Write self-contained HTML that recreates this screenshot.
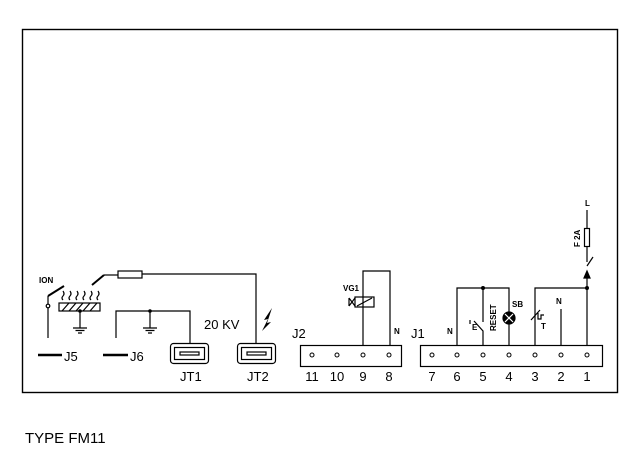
<!DOCTYPE html>
<html><head><meta charset="utf-8"><style>
html,body{margin:0;padding:0;background:#fff;}
svg{display:block;}
text{font-family:"Liberation Sans",sans-serif;fill:#000;}
.b{font-weight:bold;font-size:8px;}
.n{font-size:13px;}
</style></head><body>
<svg width="635" height="469" viewBox="0 0 635 469" xmlns="http://www.w3.org/2000/svg">
<g fill="none" stroke="#000" stroke-width="1.2">
<rect x="22.5" y="29.5" width="595" height="363" stroke-width="1.4"/>
<!-- J5 / ION -->
<line x1="48" y1="338" x2="48" y2="296"/>
<line x1="48" y1="296" x2="64" y2="286" stroke-width="2"/>
<circle cx="48" cy="306" r="1.8" fill="#fff"/>
<rect x="59" y="303" width="41" height="8"/>
<path d="M62 311 L69 303 M69 311 L76 303 M76 311 L83 303 M83 311 L90 303 M90 311 L97 303"/>
<path d="M63 300 q-2 -2 0 -4 q2 -2 0 -5 M70 300 q-2 -2 0 -4 q2 -2 0 -5 M77 300 q-2 -2 0 -4 q2 -2 0 -5 M84 300 q-2 -2 0 -4 q2 -2 0 -5 M91 300 q-2 -2 0 -4 q2 -2 0 -5 M98 300 q-2 -2 0 -4 q2 -2 0 -5"/>
<line x1="80" y1="311" x2="80" y2="328"/>
<path d="M73 328 H87 M75.5 330.5 H84.5 M78 333 H82"/>
<line x1="92" y1="285" x2="104" y2="275" stroke-width="2"/>
<line x1="104" y1="275" x2="118" y2="275"/>
<rect x="118" y="271" width="24" height="7"/>
<path d="M142 274 H256 V343"/>
<!-- J6 -->
<path d="M116 338 V311 H190 V343"/>
<line x1="150" y1="311" x2="150" y2="328"/>
<path d="M143 328 H157 M145.5 330.5 H154.5 M148 333 H152"/>
<line x1="38" y1="355" x2="62" y2="355" stroke-width="2.5"/>
<line x1="103" y1="355" x2="128" y2="355" stroke-width="2.5"/>
<!-- JT1 JT2 -->
<rect x="170.5" y="343.5" width="38" height="20" rx="3"/>
<rect x="174.5" y="347.5" width="30" height="12"/>
<rect x="180" y="352" width="19" height="3"/>
<rect x="237.5" y="343.5" width="38" height="20" rx="3"/>
<rect x="241.5" y="347.5" width="30" height="12"/>
<rect x="247" y="352" width="19" height="3"/>
<!-- J2 -->
<rect x="300.5" y="345.5" width="101" height="21"/>
<path d="M363 345 V271 H390 V345"/>
<rect x="355" y="297" width="19" height="10"/>
<line x1="357" y1="306" x2="372" y2="298"/>
<path d="M349 298 L355 306 M349 306 L355 298 M349 298 V306"/>
<!-- J1 -->
<rect x="420.5" y="345.5" width="182" height="21"/>
<path d="M457 345 V288 H509 V345"/>
<path d="M483 288 V322 M483 345 V331 L474 321 M470 320 V324"/>
<circle cx="509" cy="318" r="6" fill="#000"/>
<path d="M505 314 L513 322 M513 314 L505 322" stroke="#fff" stroke-width="1.2"/>
<path d="M535 345 V288 H587 V345"/>
<path d="M531 320 L540 310 M538 313 V319 H541 V315 H544"/>
<line x1="561" y1="345" x2="561" y2="309"/>
<path d="M587 288 V274"/>
<path d="M584 278 L587 271 L590 278 Z" fill="#000"/>
<path d="M587 266 L593 257 M587 262 V246 M587 228 V210"/>
<rect x="584.5" y="228.5" width="5" height="18"/>
</g>
<g fill="#000">
<circle cx="80" cy="311" r="1.8"/>
<circle cx="150" cy="311" r="1.8"/>
<circle cx="483" cy="288" r="2"/>
<circle cx="587" cy="288" r="2"/>
<path d="M262 331 L268 319 L264 320 L272 308 L267 323 L271 322 Z"/>
</g>
<g fill="none" stroke="#000" stroke-width="1">
<circle cx="312" cy="355" r="2"/><circle cx="337" cy="355" r="2"/><circle cx="363" cy="355" r="2"/><circle cx="389" cy="355" r="2"/>
<circle cx="432" cy="355" r="2"/><circle cx="457" cy="355" r="2"/><circle cx="483" cy="355" r="2"/><circle cx="509" cy="355" r="2"/><circle cx="535" cy="355" r="2"/><circle cx="561" cy="355" r="2"/><circle cx="587" cy="355" r="2"/>
</g>
<text class="b" x="39" y="283">ION</text>
<text class="n" x="64" y="361">J5</text>
<text class="n" x="130" y="361">J6</text>
<text class="n" x="180" y="381">JT1</text>
<text class="n" x="247" y="381">JT2</text>
<text class="n" x="204" y="329">20 KV</text>
<text class="n" x="292" y="338">J2</text>
<text class="n" x="411" y="338">J1</text>
<text class="b" x="343" y="291">VG1</text>
<text class="b" x="394" y="334">N</text>
<text class="b" x="447" y="334">N</text>
<text class="b" x="556" y="304">N</text>
<text class="b" x="512" y="307">SB</text>
<text class="b" x="541" y="329">T</text>
<text class="b" x="472" y="330">E</text>
<text class="b" x="585" y="206">L</text>
<text class="b" transform="translate(496,331) rotate(-90)">RESET</text>
<text class="b" transform="translate(580,247) rotate(-90)">F 2A</text>
<g class="n" text-anchor="middle">
<text x="312" y="381">11</text><text x="337" y="381">10</text><text x="363" y="381">9</text><text x="389" y="381">8</text>
<text x="432" y="381">7</text><text x="457" y="381">6</text><text x="483" y="381">5</text><text x="509" y="381">4</text><text x="535" y="381">3</text><text x="561" y="381">2</text><text x="587" y="381">1</text>
</g>
<text x="25" y="443" style="font-size:15px">TYPE  FM11</text>
</svg>
</body></html>
